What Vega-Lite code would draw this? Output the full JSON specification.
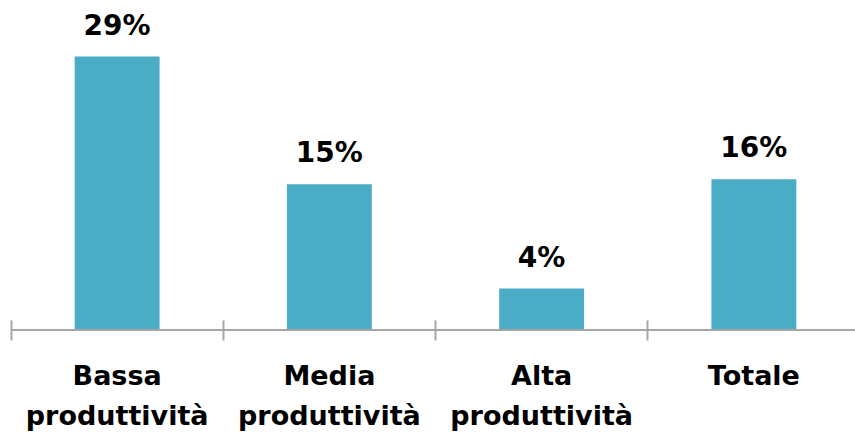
{
  "$schema": "https://vega.github.io/schema/vega-lite/v6.json",
  "autosize": "none",
  "width": 849,
  "height": 330,
  "padding": {"left": 11, "top": 0, "right": 0, "bottom": 102},
  "background": "white",
  "config": {"view": {"stroke": null}, "font": "DejaVu Sans"},
  "data": {"values": [
    {"categoria": "Bassa produttività", "valore": 0.29},
    {"categoria": "Media produttività", "valore": 0.1545},
    {"categoria": "Alta produttività", "valore": 0.044},
    {"categoria": "Totale", "valore": 0.16}
  ]},
  "layer": [
    {
      "mark": {"type": "bar", "color": "#4BACC6"},
      "encoding": {
        "x": {"field": "categoria", "type": "nominal", "sort": null,
          "scale": {"paddingInner": 0.6, "paddingOuter": 0.3},
          "axis": {"title": null, "domain": false, "offset": -10, "tickSize": 20, "tickColor": "#A6A6A6", "tickWidth": 2,
            "bandPosition": -0.75, "labelAngle": 0,
            "labelExpr": "split(datum.label, ' ')", "labelFont": "DejaVu Sans", "labelFontSize": 27, "labelFontWeight": "bold",
            "labelColor": "#000000", "labelBaseline": "alphabetic", "labelPadding": 44, "labelLineHeight": 40, "labelLimit": 0}},
        "y": {"field": "valore", "type": "quantitative", "scale": {"domain": [0, 0.35]}, "axis": null}
      }
    },
    {
      "mark": {"type": "text", "font": "DejaVu Sans", "fontSize": 28, "fontWeight": "bold", "color": "#000000", "baseline": "alphabetic", "dy": -22},
      "encoding": {
        "x": {"field": "categoria", "type": "nominal", "sort": null},
        "y": {"field": "valore", "type": "quantitative"},
        "text": {"field": "valore", "type": "quantitative", "format": ".0%"}
      }
    },
    {
      "mark": {"type": "rule", "color": "#A6A6A6", "strokeWidth": 2},
      "encoding": {"y": {"datum": 0}}
    }
  ]
}
